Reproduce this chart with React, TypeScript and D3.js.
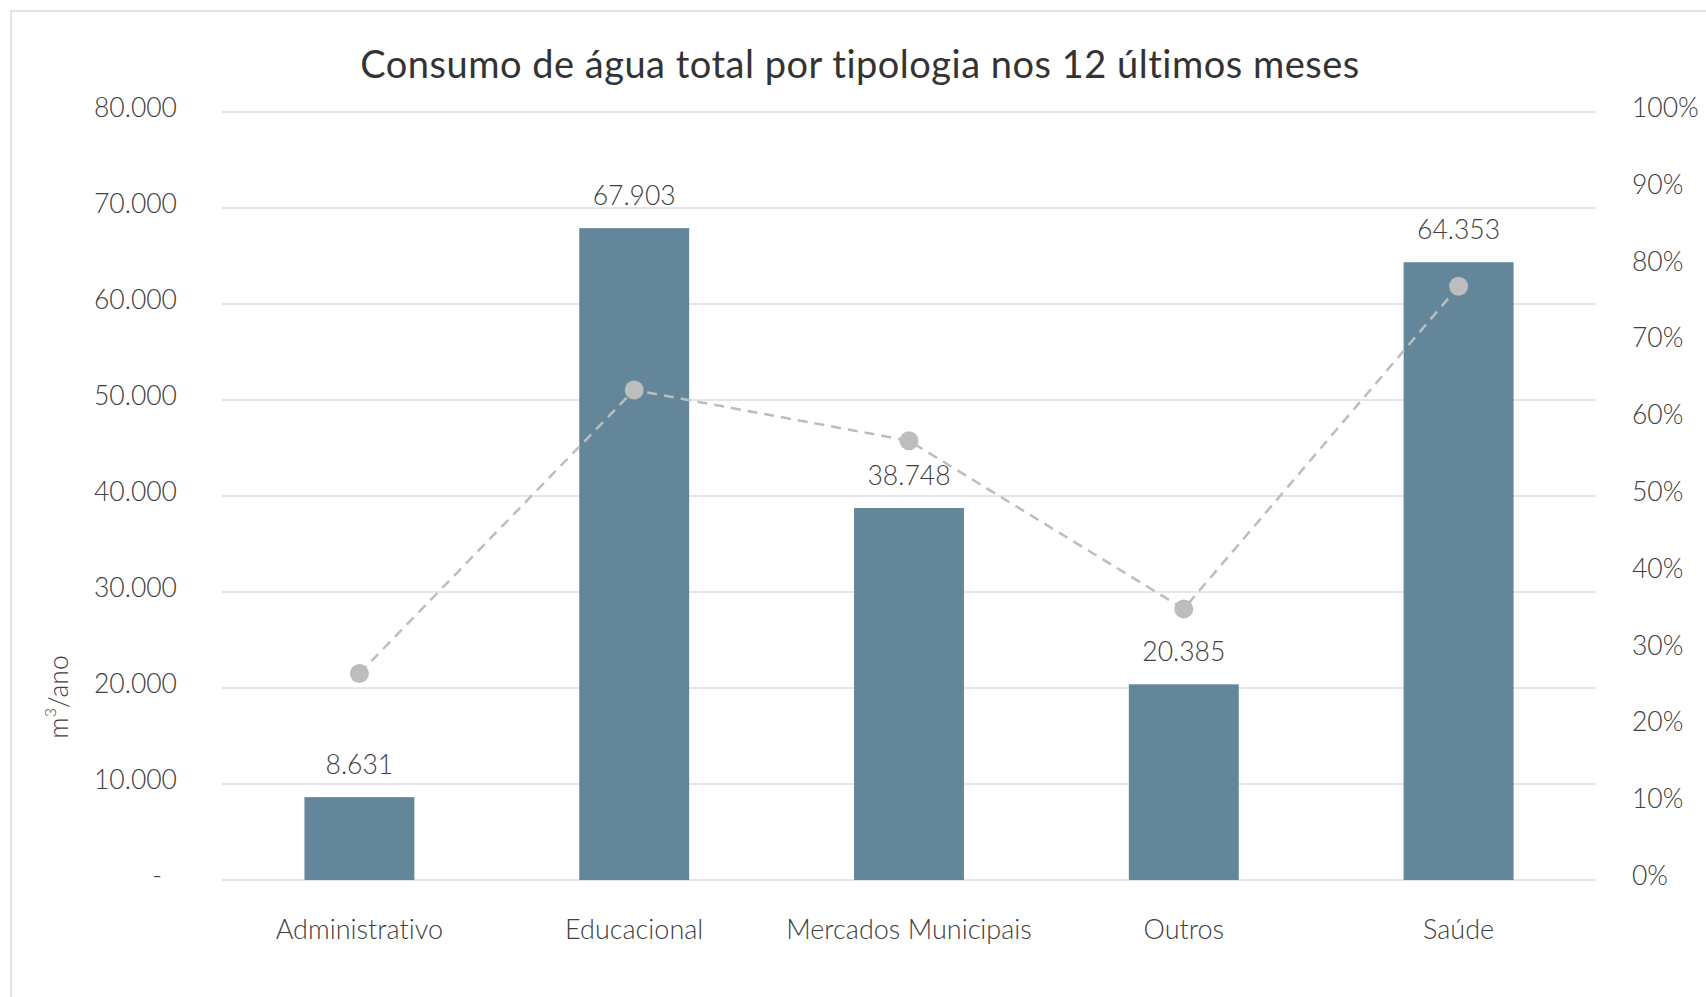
import React, { useRef, useEffect } from "react";
import * as d3 from "d3";

const categories = ["Administrativo", "Educacional", "Mercados Municipais", "Outros", "Saúde"];
const consumo = [8631, 67903, 38748, 20385, 64353];
const percentagem = [0.269, 0.638, 0.572, 0.353, 0.773];
const leftTicks = [0, 10000, 20000, 30000, 40000, 50000, 60000, 70000, 80000];
const rightTicks = [0, 0.1, 0.2, 0.3, 0.4, 0.5, 0.6, 0.7, 0.8, 0.9, 1];

const W = 1706;
const H = 997;
const FONT = "Lato, 'Open Sans', sans-serif";
const TXT = "#404040";

const fmtNum = (v: number) => (v === 0 ? "-" : d3.format(",")(v).replace(/,/g, "."));

const Chart: React.FC = () => {
  const svgRef = useRef<SVGSVGElement | null>(null);

  useEffect(() => {
    const svg = d3.select(svgRef.current);
    svg.selectAll("*").remove();

    const left = 222, right = 1596, top = 112, bottom = 880;

    const x = d3.scaleBand<string>().domain(categories).range([left, right]).padding(0);
    const y = d3.scaleLinear().domain([0, 80000]).range([bottom, top]);
    const y2 = d3.scaleLinear().domain([0, 1]).range([bottom, top]);
    const barW = x.bandwidth() * 0.4;
    const cx = (c: string) => (x(c) as number) + x.bandwidth() / 2;

    svg.style("font-variant-ligatures", "none");

    // chart frame
    svg.append("rect")
      .attr("x", 11).attr("y", 11)
      .attr("width", W).attr("height", H)
      .attr("fill", "#fff")
      .attr("stroke", "#e4e4e4")
      .attr("stroke-width", 2);

    svg.append("text")
      .attr("x", 860).attr("y", 78)
      .attr("text-anchor", "middle")
      .attr("font-family", FONT)
      .attr("font-size", 38)
      .attr("letter-spacing", 0.5)
      .attr("fill", "#333")
      .text("Consumo de água total por tipologia nos 12 últimos meses");

    // gridlines
    svg.append("g").selectAll("line")
      .data(leftTicks)
      .enter().append("line")
      .attr("x1", left).attr("x2", right)
      .attr("y1", (d) => y(d)).attr("y2", (d) => y(d))
      .attr("stroke", "#e6e6e6")
      .attr("stroke-width", 2);

    // left axis labels
    svg.append("g").selectAll("text")
      .data(leftTicks)
      .enter().append("text")
      .attr("x", (d) => (d === 0 ? 162 : 177))
      .attr("y", (d) => y(d) - 5)
      .attr("dominant-baseline", "central")
      .attr("text-anchor", "end")
      .attr("font-family", FONT)
      .attr("font-weight", 300)
      .attr("font-size", 26.5)
      .attr("fill", TXT)
      .text((d) => fmtNum(d));

    // right axis labels
    svg.append("g").selectAll("text")
      .data(rightTicks)
      .enter().append("text")
      .attr("x", 1632)
      .attr("y", (d) => y2(d) - 5)
      .attr("dominant-baseline", "central")
      .attr("font-family", FONT)
      .attr("font-weight", 300)
      .attr("font-size", 26.5)
      .attr("fill", TXT)
      .text((d) => d3.format(".0%")(d));

    // y axis title
    const yt = svg.append("text")
      .attr("transform", `translate(58,697) rotate(-90)`)
      .attr("text-anchor", "middle")
      .attr("dominant-baseline", "central")
      .attr("font-family", FONT)
      .attr("font-weight", 300)
      .attr("font-size", 26.5)
      .attr("fill", TXT);
    yt.append("tspan").text("m");
    yt.append("tspan").attr("font-size", 16).attr("dy", -9).text("3");
    yt.append("tspan").attr("dy", 9).text("/ano");

    // bars
    svg.append("g").selectAll("rect")
      .data(consumo)
      .enter().append("rect")
      .attr("x", (d, i) => cx(categories[i]) - barW / 2)
      .attr("y", (d) => y(d))
      .attr("width", barW)
      .attr("height", (d) => bottom - y(d))
      .attr("fill", "#63869a");

    // bar labels
    svg.append("g").selectAll("text")
      .data(consumo)
      .enter().append("text")
      .attr("x", (d, i) => cx(categories[i]))
      .attr("y", (d) => y(d) - 33)
      .attr("dominant-baseline", "central")
      .attr("text-anchor", "middle")
      .attr("font-family", FONT)
      .attr("font-weight", 300)
      .attr("font-size", 26.5)
      .attr("fill", TXT)
      .text((d) => fmtNum(d));

    // category labels
    svg.append("g").selectAll("text")
      .data(categories)
      .enter().append("text")
      .attr("x", (d) => cx(d))
      .attr("y", 928)
      .attr("dominant-baseline", "central")
      .attr("text-anchor", "middle")
      .attr("font-family", FONT)
      .attr("font-weight", 300)
      .attr("font-size", 27)
      .attr("fill", TXT)
      .text((d) => d);

    // percentage line
    const line = d3.line<number>()
      .x((d, i) => cx(categories[i]))
      .y((d) => y2(d));

    svg.append("path")
      .datum(percentagem)
      .attr("d", line)
      .attr("fill", "none")
      .attr("stroke", "#bdbdbd")
      .attr("stroke-width", 2.5)
      .attr("stroke-dasharray", "10,7");

    svg.append("g").selectAll("circle")
      .data(percentagem)
      .enter().append("circle")
      .attr("cx", (d, i) => cx(categories[i]))
      .attr("cy", (d) => y2(d))
      .attr("r", 9.5)
      .attr("fill", "#bdbdbd");
  }, []);

  return <svg ref={svgRef} width={W} height={H} style={{ position: "absolute", left: 0, top: 0 }} />;
};

export default function App() {
  return <Chart />;
}
